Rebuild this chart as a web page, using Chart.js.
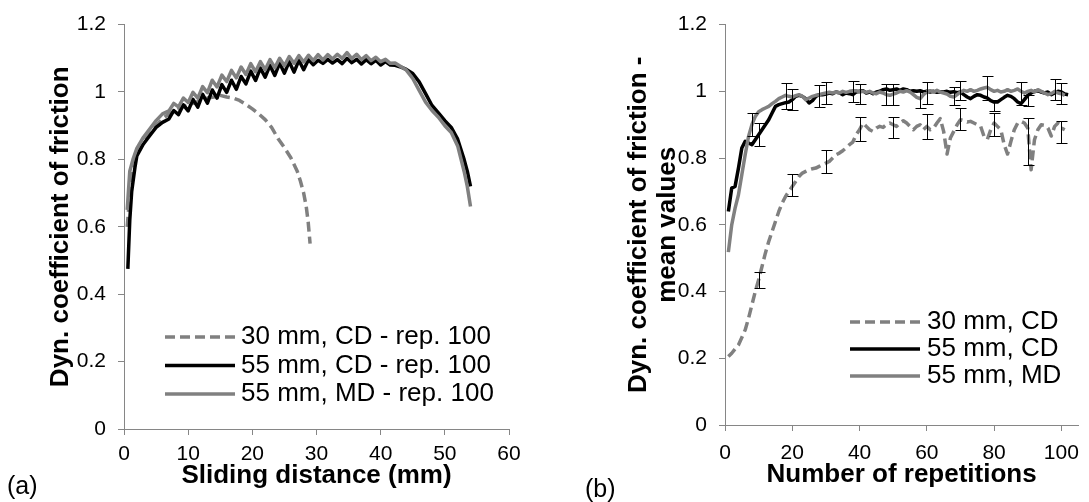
<!DOCTYPE html>
<html><head><meta charset="utf-8">
<script src="https://cdn.jsdelivr.net/npm/chart.js@4.4.1/dist/chart.umd.min.js"></script>
<style>
html,body{margin:0;padding:0;background:#fff;overflow:hidden;width:1089px;height:502px}
#wrapA{position:absolute;left:0;top:0;width:545px;height:502px}
#wrapB{position:absolute;left:545px;top:0;width:544px;height:502px}
.lab{position:absolute;font-family:"Liberation Sans",Arial,sans-serif;font-size:25px;color:#000;line-height:1}
</style></head><body>
<div id="wrapA"><canvas id="chartA" width="545" height="502"></canvas></div>
<div id="wrapB"><canvas id="chartB" width="544" height="502"></canvas></div>
<div class="lab" style="left:7px;top:473px">(a)</div>
<div class="lab" style="left:585px;top:476px">(b)</div>
<script>
// ---------- Chart (a): friction vs sliding distance ----------
const seriesLabelsA = ['30 mm, CD - rep. 100', '55 mm, CD - rep. 100', '55 mm, MD - rep. 100'];
const xTitleA = 'Sliding distance (mm)';
const yTitleA = 'Dyn. coefficient of friction';
const xTicksA = [0, 10, 20, 30, 40, 50, 60];
const xTickLabelsA = ['0', '10', '20', '30', '40', '50', '60'];
const yTicks = [0, 0.2, 0.4, 0.6, 0.8, 1, 1.2];
const yTickLabels = ['0', '0.2', '0.4', '0.6', '0.8', '1', '1.2'];

const distCD30 = [0.5,1,1.5,2,3,4,5,6,7,8,9,10,11,12,13,14,15,16,17,18,19,20,21,22,23,24,25,26,27,27.5,28,28.4,28.7,29];
const cofCD30  = [0.6,0.72,0.78,0.815,0.85,0.875,0.9,0.92,0.935,0.945,0.955,0.962,0.968,0.975,0.982,0.985,0.99,0.985,0.982,0.975,0.963,0.95,0.935,0.918,0.895,0.862,0.835,0.805,0.765,0.735,0.70,0.66,0.615,0.55];

const distCD55 = [0.6,0.9,1.2,1.7,2,3,4,5,6,
  7,7.75,8.5,9.25,10,10.75,11.5,12.25,13,13.75,14.5,15.25,16,16.75,17.5,18.25,19,19.75,20.5,21.25,22,22.75,23.5,24.25,25,25.75,26.5,27.25,28,28.75,29.5,30.25,31,31.75,32.5,33.25,34,34.75,35.5,36.25,37,37.75,38.5,39.25,40,40.75,41.5,42.25,
  43,44,45,46,47,48,49,50,51,52,53,53.5,54];
const cofCD55 = [0.475,0.62,0.705,0.775,0.81,0.845,0.87,0.895,0.91,
  0.92,0.945,0.933,0.962,0.944,0.978,0.955,0.993,0.967,1.006,0.982,1.022,0.999,1.035,1.008,1.046,1.024,1.062,1.034,1.071,1.044,1.079,1.049,1.086,1.056,1.09,1.059,1.094,1.066,1.096,1.081,1.094,1.085,1.097,1.086,1.096,1.084,1.1,1.087,1.097,1.083,1.096,1.084,1.094,1.08,1.09,1.08,1.079,
  1.075,1.067,1.055,1.03,0.995,0.96,0.938,0.915,0.895,0.86,0.8,0.765,0.72];

const distMD55 = [0.5,0.9,1.4,2,3,4,5,6,
  7,7.75,8.5,9.25,10,10.75,11.5,12.25,13,13.75,14.5,15.25,16,16.75,17.5,18.25,19,19.75,20.5,21.25,22,22.75,23.5,24.25,25,25.75,26.5,27.25,28,28.75,29.5,30.25,31,31.75,32.5,33.25,34,34.75,35.5,36.25,37,37.75,38.5,39.25,40,40.75,41.5,42.25,
  43,44,45,46,47,48,49,50,51,52,53,53.5,54];
const cofMD55 = [0.65,0.765,0.8,0.833,0.865,0.89,0.915,0.935,
  0.944,0.966,0.956,0.982,0.969,0.999,0.982,1.016,0.998,1.035,1.015,1.05,1.031,1.064,1.042,1.074,1.052,1.084,1.06,1.09,1.066,1.096,1.072,1.1,1.078,1.105,1.085,1.108,1.089,1.109,1.093,1.111,1.095,1.111,1.098,1.112,1.1,1.117,1.099,1.112,1.096,1.108,1.093,1.103,1.09,1.097,1.085,1.086,
  1.077,1.065,1.04,1.005,0.97,0.945,0.925,0.9,0.88,0.84,0.765,0.72,0.66];

// ---------- Chart (b): mean friction vs repetitions ----------
const seriesLabelsB = ['30 mm, CD', '55 mm, CD', '55 mm, MD'];
const xTitleB = 'Number of repetitions';
const yTitleB = ['Dyn. coefficient of friction -', 'mean values'];
const xTicksB = [0, 20, 40, 60, 80, 100];
const xTickLabelsB = ['0', '20', '40', '60', '80', '100'];

const reps = [1,2,3,4,5,6,7,8,9,10,11,12,13,14,15,16,17,18,19,20,21,22,23,24,25,26,27,28,29,30,31,32,33,34,35,36,37,38,39,40,41,42,43,44,45,46,47,48,49,50,51,52,53,54,55,56,57,58,59,60,61,62,63,64,65,66,67,68,69,70,71,72,73,74,75,76,77,78,79,80,81,82,83,84,85,86,87,88,89,90,91,92,93,94,95,96,97,98,99,100,101,102];

const meanCD30 = [0.205,0.215,0.228,0.24,0.262,0.285,0.32,0.36,0.4,0.435,
  0.475,0.515,0.55,0.58,0.61,0.64,0.665,0.685,0.7,0.715,
  0.73,0.745,0.755,0.76,0.765,0.768,0.77,0.775,0.78,0.785,
  0.79,0.8,0.81,0.815,0.822,0.83,0.84,0.848,0.87,0.885,
  0.905,0.895,0.885,0.88,0.89,0.895,0.892,0.9,0.905,0.9,
  0.895,0.905,0.912,0.905,0.895,0.885,0.895,0.9,0.885,0.895,
  0.885,0.89,0.905,0.918,0.88,0.812,0.86,0.88,0.9,0.915,
  0.912,0.908,0.91,0.905,0.9,0.895,0.865,0.856,0.885,0.905,
  0.895,0.885,0.84,0.812,0.85,0.885,0.905,0.91,0.905,0.89,
  0.765,0.855,0.885,0.9,0.898,0.89,0.866,0.895,0.905,0.89,
  0.885,null];
const meanCD55 = [0.64,0.71,0.715,0.77,0.83,0.85,0.845,0.84,0.855,0.87,
  0.885,0.9,0.915,0.935,0.955,0.96,0.963,0.966,0.968,0.975,
  0.985,0.988,0.985,0.978,0.965,0.972,0.985,0.99,0.99,0.992,
  0.995,0.993,0.998,0.996,0.99,0.995,0.993,0.99,0.998,1.0,
  1.002,0.995,0.998,0.993,0.998,1.0,1.005,1.007,1.003,1.005,
  1.007,1.003,1.007,1.005,1.0,1.002,1.0,1.002,0.998,1.0,
  0.998,1.0,0.997,0.999,0.998,1.0,0.997,0.999,0.996,0.998,
  0.99,0.983,0.978,0.985,0.99,0.988,0.983,0.98,0.972,0.968,
  0.968,0.975,0.982,0.988,0.985,0.978,0.968,0.963,0.975,0.988,
  0.995,1.0,1.002,0.998,0.995,0.998,0.99,0.995,1.0,0.998,
  0.992,0.99];
const meanMD55 = [0.518,0.6,0.65,0.69,0.75,0.81,0.865,0.9,0.925,0.939,
  0.945,0.95,0.955,0.963,0.97,0.978,0.983,0.988,0.985,0.983,
  0.987,0.99,0.985,0.975,0.98,0.985,0.988,0.99,0.993,0.995,
  0.997,0.995,0.998,0.995,1.0,0.997,1.0,1.002,1.002,0.998,
  1.0,0.997,1.0,0.995,0.993,0.998,0.995,0.99,0.988,0.992,
  0.995,1.0,0.998,1.002,0.998,0.99,0.982,0.978,0.99,0.998,
  1.002,0.998,1.003,0.998,0.995,0.992,0.985,0.983,0.99,0.998,
  1.003,1.0,1.005,1.0,1.003,1.007,1.01,1.012,1.005,1.0,
  1.003,0.998,1.0,1.005,1.0,1.003,1.007,1.0,0.995,1.0,
  1.003,0.998,1.005,1.0,0.995,0.99,0.993,1.0,0.995,0.993,
  0.988,null];

// error bars (upper / lower ends)
const errRepsCD30 = [10,20,30,40,50,60,70,80,90,100];
const errHiCD30   = [0.46,0.753,0.825,0.924,0.924,0.932,0.949,0.936,0.92,0.91];
const errLoCD30   = [0.411,0.685,0.756,0.851,0.861,0.856,0.883,0.866,0.78,0.846];
const errRepsCD55 = [10,20,30,40,50,60,70,80,90,100];
const errHiCD55   = [0.905,1.007,1.027,1.022,1.022,1.027,1.032,0.975,0.99,1.024];
const errLoCD55   = [0.836,0.944,0.963,0.963,0.958,0.963,0.973,0.94,0.955,0.963];
const errRepsMD55 = [8,18,28,38,48,58,68,78,88,98];
const errHiMD55   = [0.934,1.025,1.02,1.032,1.022,1.002,1.012,1.047,1.027,1.037];
const errLoMD55   = [0.866,0.948,0.954,0.968,0.958,0.949,0.958,0.975,0.96,0.973];

// ---------- styling ----------
const FONT = '"Liberation Sans", Arial, sans-serif';
const GRAY = '#808080';
const AXIS = '#868686';
const LW = 3.5;
const DASH = [10, 5];

const pts = (xs, ys) => xs.map((x, i) => ({x: x, y: ys[i]}));

const inlineLegend = {
  id: 'inlineLegend',
  afterDraw(chart, args, o) {
    const ctx = chart.ctx;
    ctx.save();
    o.order.forEach((di, row) => {
      const ds = chart.data.datasets[di];
      const y = o.y0 + row * o.dy;
      ctx.beginPath();
      ctx.setLineDash(ds.borderDash || []);
      ctx.lineWidth = ds.borderWidth;
      ctx.strokeStyle = ds.borderColor;
      ctx.lineCap = 'butt';
      ctx.moveTo(o.x0, y); ctx.lineTo(o.x1, y); ctx.stroke();
      ctx.setLineDash([]);
      ctx.font = o.size + 'px ' + FONT;
      ctx.fillStyle = '#000';
      ctx.textBaseline = 'middle';
      ctx.textAlign = 'left';
      ctx.fillText(ds.label, o.x1 + o.gap, y);
    });
    ctx.restore();
  }
};

const errorBars = {
  id: 'errorBars',
  afterDatasetsDraw(chart) {
    const {ctx, scales: {x, y}} = chart;
    const sets = [[errRepsCD30, errHiCD30, errLoCD30], [errRepsCD55, errHiCD55, errLoCD55], [errRepsMD55, errHiMD55, errLoMD55]];
    const cap = 5;
    ctx.save();
    ctx.strokeStyle = '#000';
    ctx.lineWidth = 1;
    sets.forEach(([xs, hi, lo]) => {
      xs.forEach((xv, i) => {
        const px = Math.round(x.getPixelForValue(xv)) + 0.5;
        const pt = Math.round(y.getPixelForValue(hi[i])) + 0.5;
        const pb = Math.round(y.getPixelForValue(lo[i])) + 0.5;
        ctx.beginPath();
        ctx.moveTo(px, pt); ctx.lineTo(px, pb);
        ctx.moveTo(px - cap, pt); ctx.lineTo(px + cap + 1, pt);
        ctx.moveTo(px - cap, pb); ctx.lineTo(px + cap + 1, pb);
        ctx.stroke();
      });
    });
    ctx.restore();
  }
};

function axis(min, max, ticks, labels, title, o) {
  return {
    type: 'linear', min: min, max: max,
    afterBuildTicks: s => { s.ticks = ticks.map(v => ({value: v})); },
    afterFit: s => { if (o.w) s.width = o.w; if (o.h) s.height = o.h; },
    grid: {drawOnChartArea: false, drawTicks: true, tickLength: 6, tickColor: AXIS, lineWidth: 1},
    border: {color: AXIS, width: 1},
    ticks: {color: '#000', font: {family: FONT, size: 21}, padding: o.pad, maxRotation: 0, autoSkip: false,
            callback: (v, i) => labels[i]},
    title: {display: true, text: title, color: '#000',
            font: {family: FONT, size: 26, weight: 'bold', lineHeight: 1.13},
            padding: o.titlePad}
  };
}

const common = {
  responsive: false, animation: false, devicePixelRatio: 1,
  elements: {point: {radius: 0, hoverRadius: 0}, line: {tension: 0, borderCapStyle: 'butt', borderJoinStyle: 'round'}},
  events: []
};

new Chart(document.getElementById('chartA'), {
  type: 'line',
  data: {datasets: [
    {label: seriesLabelsA[0], data: pts(distCD30, cofCD30), borderColor: GRAY, borderWidth: LW, borderDash: DASH, order: 2},
    {label: seriesLabelsA[1], data: pts(distCD55, cofCD55), borderColor: '#000', borderWidth: LW, order: 1},
    {label: seriesLabelsA[2], data: pts(distMD55, cofMD55), borderColor: GRAY, borderWidth: LW, order: 0}
  ]},
  options: Object.assign({}, common, {
    layout: {padding: {left: 0, top: 17, right: 36, bottom: 0}},
    plugins: {legend: {display: false}, tooltip: {enabled: false},
      inlineLegend: {order: [0, 1, 2], x0: 165, x1: 235, gap: 6, y0: 337, dy: 28.5, size: 26}},
    scales: {
      x: axis(0, 60, xTicksA, xTickLabelsA, xTitleA, {h: 73, pad: 7, titlePad: {top: 0, bottom: 11}}),
      y: axis(0, 1.2, yTicks, yTickLabels, yTitleA, {w: 124, pad: 12, titlePad: {top: 46, bottom: 0}})
    }
  }),
  plugins: [inlineLegend]
});

new Chart(document.getElementById('chartB'), {
  type: 'line',
  data: {datasets: [
    {label: seriesLabelsB[0], data: pts(reps, meanCD30), borderColor: GRAY, borderWidth: LW, borderDash: DASH, order: 2},
    {label: seriesLabelsB[1], data: pts(reps, meanCD55), borderColor: '#000', borderWidth: LW, order: 1},
    {label: seriesLabelsB[2], data: pts(reps, meanMD55), borderColor: GRAY, borderWidth: LW, order: 0}
  ]},
  options: Object.assign({}, common, {
    layout: {padding: {left: 0, top: 16, right: 2, bottom: 0}},
    plugins: {legend: {display: false}, tooltip: {enabled: false},
      inlineLegend: {order: [0, 1, 2], x0: 305, x1: 375, gap: 7, y0: 322, dy: 27, size: 26}},
    scales: {
      x: axis(0, 105, xTicksB, xTickLabelsB, xTitleB, {h: 77, pad: 10, titlePad: {top: 0, bottom: 12}}),
      y: axis(0, 1.2, yTicks, yTickLabels, yTitleB, {w: 180, pad: 12, titlePad: {top: 79, bottom: 0}})
    }
  }),
  plugins: [inlineLegend, errorBars]
});
</script>
</body></html>
